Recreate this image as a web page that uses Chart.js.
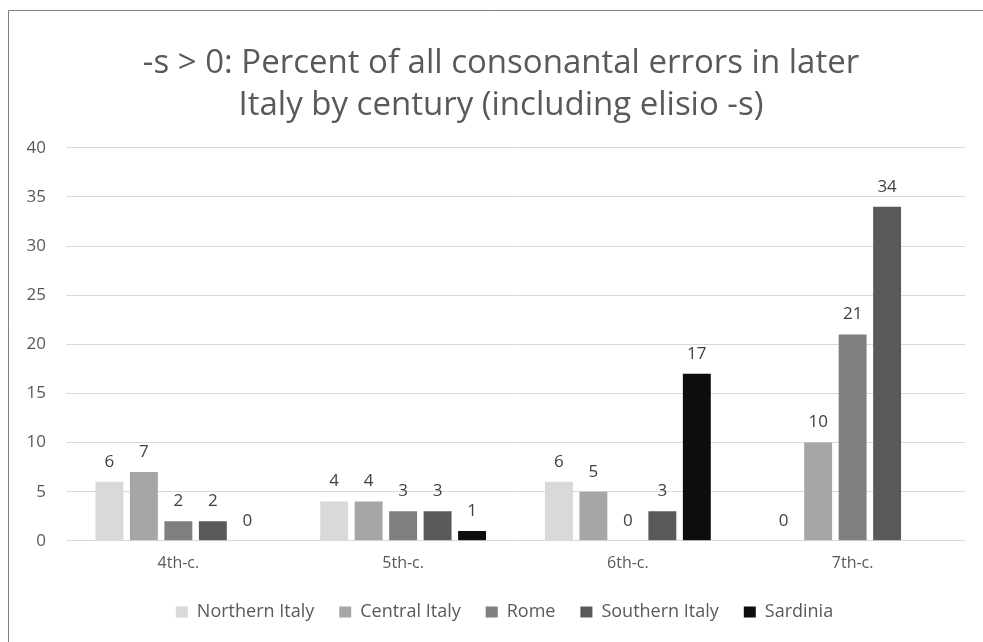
<!DOCTYPE html>
<html>
<head>
<meta charset="utf-8">
<script src="https://cdn.jsdelivr.net/npm/chart.js@4.4.1/dist/chart.umd.min.js"></script>
<style>
  html, body { margin: 0; padding: 0; background: #ffffff; }
  #wrap { width: 983px; height: 642px; position: relative; }
</style>
</head>
<body>
<div id="wrap"><canvas id="chart" width="983" height="642"></canvas></div>
<script>
const centuries = ['4th-c.', '5th-c.', '6th-c.', '7th-c.'];
const seriesNames = ['Northern Italy', 'Central Italy', 'Rome', 'Southern Italy', 'Sardinia'];
const northernItaly = [6, 4, 6, 0];
const centralItaly = [7, 4, 5, 10];
const rome = [2, 3, 0, 21];
const southernItaly = [2, 3, 3, 34];
const sardinia = [0, 1, 17, null];
const yTicks = [0, 5, 10, 15, 20, 25, 30, 35, 40];

const seriesColors = ['#d9d9d9', '#a6a6a6', '#7f7f7f', '#595959', '#0d0d0d'];
const seriesValues = [northernItaly, centralItaly, rome, southernItaly, sardinia];
const fontFamily = '"Open Sans", Lato, sans-serif';
const textColor = '#595959';

// value labels above each bar
const barLabels = {
    id: 'barLabels',
    afterDatasetsDraw(chart) {
        const ctx = chart.ctx;
        ctx.save();
        ctx.font = '17px ' + fontFamily;
        ctx.fillStyle = '#404040';
        ctx.textAlign = 'center';
        ctx.textBaseline = 'middle';
        chart.data.datasets.forEach((ds, i) => {
            const meta = chart.getDatasetMeta(i);
            meta.data.forEach((bar, j) => {
                const v = ds.data[j];
                if (v === null || v === undefined) return;
                ctx.fillText(String(v), bar.x, bar.y - 20);
            });
        });
        ctx.restore();
    }
};

// frame lines of the cropped chart box, and centre title/legend a bit right like the original
const frame = {
    id: 'frame',
    afterLayout(chart) {
        if (chart.titleBlock) chart.titleBlock.left += 27;
        if (chart.legend) chart.legend.left += 34;
    },
    beforeDraw(chart) {
        const ctx = chart.ctx;
        ctx.save();
        ctx.strokeStyle = '#7f7f7f';
        ctx.lineWidth = 1;
        ctx.beginPath();
        ctx.moveTo(8.5, chart.height);
        ctx.lineTo(8.5, 10.5);
        ctx.lineTo(chart.width, 10.5);
        ctx.stroke();
        ctx.restore();
    }
};

new Chart(document.getElementById('chart'), {
    type: 'bar',
    data: {
        labels: centuries,
        datasets: seriesNames.map((name, i) => ({
            label: name,
            data: seriesValues[i],
            backgroundColor: seriesColors[i],
            borderWidth: 0,
            categoryPercentage: 0.767,
            barPercentage: 0.81
        }))
    },
    options: {
        responsive: false,
        animation: false,
        layout: { padding: { left: 10, right: 18, top: 0, bottom: 11 } },
        scales: {
            x: {
                grid: { display: false },
                border: { display: false },
                ticks: { color: textColor, font: { family: fontFamily, size: 16 }, padding: 5 }
            },
            y: {
                min: 0,
                max: 40,
                afterBuildTicks(scale) {
                    scale.ticks = yTicks.map(v => ({ value: v }));
                },
                afterFit(scale) { scale.width = 56; },
                grid: { color: '#d9d9d9', drawTicks: false },
                border: { display: false },
                ticks: { color: textColor, font: { family: fontFamily, size: 17 }, padding: 20 }
            }
        },
        plugins: {
            title: {
                display: true,
                text: ['-s > 0: Percent of all consonantal errors in later', 'Italy by century (including elisio -s)'],
                color: textColor,
                font: { family: fontFamily, size: 33, weight: 'normal', lineHeight: 1.27 },
                padding: { top: 43, bottom: 21 }
            },
            legend: {
                position: 'bottom',
                labels: {
                    color: textColor,
                    font: { family: fontFamily, size: 18 },
                    boxWidth: 12,
                    boxHeight: 11,
                    padding: 25
                }
            },
            tooltip: { enabled: false }
        }
    },
    plugins: [barLabels, frame]
});
</script>
</body>
</html>
